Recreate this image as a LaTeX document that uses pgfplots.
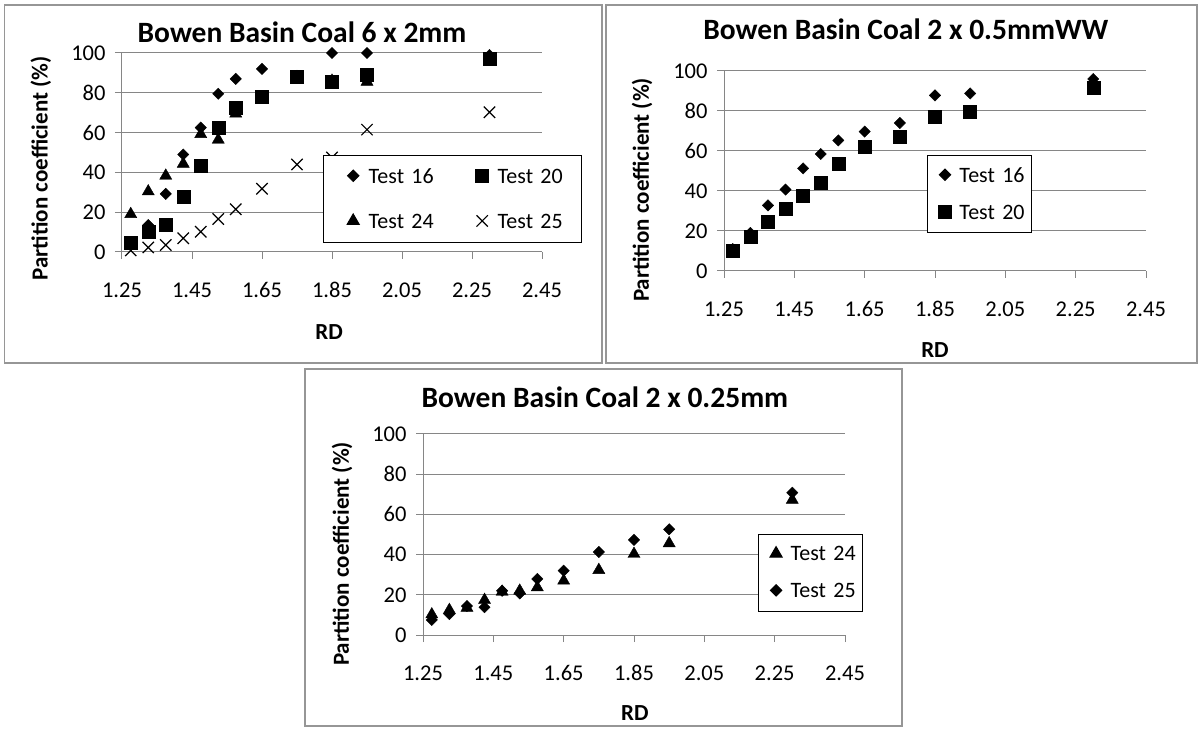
\documentclass[border=0pt]{standalone}
\usepackage{fontspec}
\setmainfont{Carlito}
\usepackage{pgfplots}
\pgfplotsset{compat=1.18}
\definecolor{axgray}{RGB}{134,134,134}
\definecolor{framegray}{RGB}{150,150,150}
\newcommand\tickf{\fontsize{22.5}{26}\selectfont}
\newcommand\legf{\fontsize{22}{26}\selectfont}
\newcommand\labf{\fontsize{23}{27}\selectfont\bfseries}
\newcommand\titf{\fontsize{29.5}{34}\selectfont\bfseries}
\pgfplotsset{
  excel/.style={
    scale only axis, clip=false,
    xmin=1.25, xmax=2.45, ymin=0, ymax=100,
    xtick={1.25,1.45,1.65,1.85,2.05,2.25,2.45},
    xticklabels={1.25,1.45,1.65,1.85,2.05,2.25,2.45},
    ytick={0,20,40,60,80,100},
    yticklabels={0,20,40,60,80,100},
    /pgf/number format/assume math mode=true,
    axis x line*=bottom, axis y line*=left,
    x axis line style={-, axgray, line width=1pt},
    y axis line style={-, axgray, line width=1pt},
    ymajorgrids, major grid style={axgray, line width=1pt},
    tick align=outside, major tick length=7pt,
    tick style={axgray, line width=1pt},
    ticklabel style={font=\tickf, text=black},
    xticklabel style={anchor=center, yshift=-31pt},
    yticklabel style={anchor=east, xshift=-6pt},
    title style={font=\titf, anchor=center},
    xlabel style={font=\labf, anchor=center},
    ylabel style={font=\labf, anchor=center},
    legend cell align=left,
  },
  s16/.style={only marks, mark=square*, mark size=4, mark options={rotate=45, fill=black, draw=black}},
  s20/.style={only marks, mark=square*, mark size=6.5, mark options={fill=black, draw=black}},
  s24/.style={only marks, mark=triangle*, mark size=7, mark options={fill=black, draw=black}},
  s25/.style={only marks, mark=x, mark size=8, mark options={draw=black, line width=1.2pt}},
}
\begin{document}
\begin{tikzpicture}
\path[use as bounding box] (0pt,0pt) rectangle (1199pt,728pt);
\draw[framegray, line width=1.5pt] (4.5pt,365pt) rectangle (602pt,723pt);
\draw[framegray, line width=1.5pt] (606pt,365pt) rectangle (1197pt,723pt);
\draw[framegray, line width=1.5pt] (305pt,2pt) rectangle (902pt,359pt);

% ---------- top left ----------
\begin{axis}[excel, at={(122pt,476pt)}, anchor=south west, width=420pt, height=199pt,
  title={Bowen Basin Coal 6 x 2mm}, title style={at={(axis description cs:0.4286,1.075)}},
  xlabel={RD}, xlabel style={at={(axis description cs:0.493,-0.402)}},
  ylabel={Partition coefficient (\%)}, ylabel style={at={(axis description cs:-0.193,0.42)}},
  legend columns=2,
  legend style={at={(axis description cs:0.479,0.487)}, anchor=north west, draw=black, line width=1pt, fill=white,
    font=\legf, inner xsep=4pt, inner ysep=13pt, row sep=29pt,
    nodes={inner sep=0pt, text width=80pt},
    /tikz/every even column/.append style={column sep=8pt}},
  legend image code/.code={\path (-25pt,0pt) (15pt,0pt); \draw[#1, line width=1pt] plot coordinates {(0pt,1pt)};},
]
\addplot[s16] coordinates {(1.275,5) (1.325,13.5) (1.375,29.2) (1.425,49) (1.475,62.5) (1.525,79.5) (1.575,87) (1.65,92) (1.75,88.5) (1.85,100) (1.95,100) (2.3,99)};
\addlegendentry{Test 16}
\addplot[s20] coordinates {(1.275,4.7) (1.325,10.2) (1.375,13.6) (1.425,27.9) (1.475,43.6) (1.525,62.4) (1.575,72.5) (1.65,78) (1.75,88.3) (1.85,85.8) (1.95,89) (2.3,97.2)};
\addlegendentry{Test 20}
\addplot[s24] coordinates {(1.275,19) (1.325,30.4) (1.375,38.3) (1.425,44.3) (1.475,59.2) (1.525,56.4) (1.575,69.5) (1.65,77.5) (1.75,87) (1.85,86) (1.95,85.5) (2.3,96)};
\addlegendentry{Test 24}
\addplot[s25] coordinates {(1.275,0.8) (1.325,2.3) (1.375,3.5) (1.425,6.9) (1.475,10.2) (1.525,16.6) (1.575,21.5) (1.65,31.8) (1.75,44) (1.85,47.5) (1.95,61.5) (2.3,70.2)};
\addlegendentry{Test 25}
\end{axis}

% ---------- top right ----------
\begin{axis}[excel, at={(724pt,457pt)}, anchor=south west, width=422pt, height=200pt,
  title={Bowen Basin Coal 2 x 0.5mmWW}, title style={at={(axis description cs:0.431,1.18)}},
  xlabel={RD}, xlabel style={at={(axis description cs:0.5,-0.395)}},
  ylabel={Partition coefficient (\%)}, ylabel style={at={(axis description cs:-0.194,0.405)}},
  legend style={at={(axis description cs:0.481,0.58)}, anchor=north west, draw=black, line width=1pt, fill=white,
    font=\legf, inner xsep=4pt, inner ysep=12pt, row sep=21pt,
    nodes={inner sep=0pt, text width=68pt}},
  legend image code/.code={\path (-13pt,0pt) (14pt,0pt); \draw[#1, line width=1pt] plot coordinates {(0pt,1pt)};},
]
\addplot[s16] coordinates {(1.275,11) (1.325,19) (1.375,32.8) (1.425,40.7) (1.475,51.3) (1.525,58.5) (1.575,65.3) (1.65,69.7) (1.75,74) (1.85,87.8) (1.95,88.8) (2.3,96)};
\addlegendentry{Test 16}
\addplot[s20] coordinates {(1.275,10.3) (1.325,17) (1.375,24.5) (1.425,31.2) (1.475,37.5) (1.525,44.2) (1.575,53.7) (1.65,62.3) (1.75,67) (1.85,77.3) (1.95,79.8) (2.3,91.8)};
\addlegendentry{Test 20}
\end{axis}

% ---------- bottom ----------
\begin{axis}[excel, at={(423pt,93pt)}, anchor=south west, width=422pt, height=201pt,
  title={Bowen Basin Coal 2 x 0.25mm}, title style={at={(axis description cs:0.431,1.154)}},
  xlabel={RD}, xlabel style={at={(axis description cs:0.502,-0.388)}},
  ylabel={Partition coefficient (\%)}, ylabel style={at={(axis description cs:-0.192,0.403)}},
  legend style={at={(axis description cs:0.794,0.502)}, anchor=north west, draw=black, line width=1pt, fill=white,
    font=\legf, inner xsep=4pt, inner ysep=12pt, row sep=21pt,
    nodes={inner sep=0pt, text width=68pt}},
  legend image code/.code={\path (-13pt,0pt) (14pt,0pt); \draw[#1, line width=1pt] plot coordinates {(0pt,1pt)};},
]
\addplot[s24] coordinates {(1.275,10.2) (1.325,12.4) (1.375,13.5) (1.425,17.4) (1.475,21.5) (1.525,22) (1.575,23.7) (1.65,27) (1.75,32.3) (1.85,40.3) (1.95,45.6) (2.3,67.2)};
\addlegendentry{Test 24}
\addplot[s16] coordinates {(1.275,7.5) (1.325,10.4) (1.375,14.4) (1.425,13.8) (1.475,22) (1.525,20.7) (1.575,27.9) (1.65,32) (1.75,41.3) (1.85,47.3) (1.95,52.6) (2.3,70.8)};
\addlegendentry{Test 25}
\end{axis}
\end{tikzpicture}
\end{document}
